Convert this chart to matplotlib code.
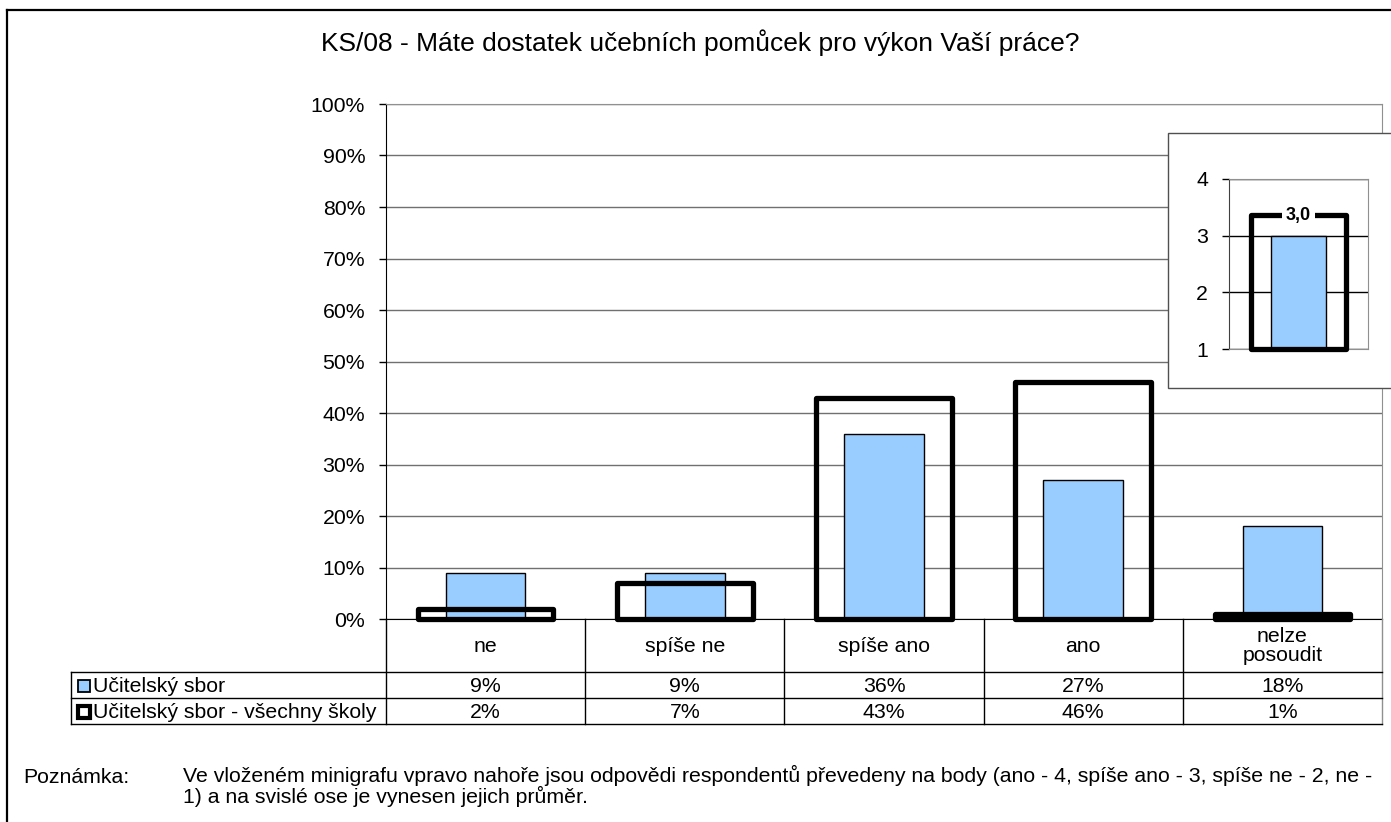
import numpy as np
import matplotlib
matplotlib.use("Agg")
import matplotlib.pyplot as plt
from matplotlib.patches import Rectangle
from matplotlib.lines import Line2D
from matplotlib.transforms import blended_transform_factory

plt.rcParams['font.family'] = ['Liberation Sans', 'DejaVu Sans']

# data
categories = ["ne", "spíše ne", "spíše ano", "ano", "nelze\nposoudit"]
sbor = [9, 9, 36, 27, 18]
vsechny = [2, 7, 43, 46, 1]
series_names = ["Učitelský sbor", "Učitelský sbor - všechny školy"]
mean_sbor = 3.0
mean_vsechny = 3.36
title = "KS/08 - Máte dostatek učebních pomůcek pro výkon Vaší práce?"
note_label = "Poznámka:"
note_text = ("Ve vloženém minigrafu vpravo nahoře jsou odpovědi respondentů převedeny na body (ano - 4, spíše ano - 3, spíše ne - 2, ne -\n"
             "1) a na svislé ose je vynesen jejich průměr.")

W, H = 1391, 822
blue = '#99CCFF'
grid_col = '#707070'
fs = 15.3

def fx(px):
    return px / W

def fy(py):
    return 1 - py / H

fig = plt.figure(figsize=(W / 100, H / 100), dpi=100)

# outer frame
fig.add_artist(Line2D([fx(7), fx(7)], [fy(10), fy(822)], color='black', lw=1.6))
fig.add_artist(Line2D([fx(7), fx(1391)], [fy(10), fy(10)], color='black', lw=1.6))

fig.text(fx(700), fy(43), title, ha='center', va='center', fontsize=19)

# main chart
L, R, T, B = 386, 1382, 104, 619
ax = fig.add_axes([fx(L), fy(B), fx(R) - fx(L), fy(T) - fy(B)])
x = np.arange(len(categories))
ax.bar(x, sbor, width=0.40, color=blue, edgecolor='black', lw=1, zorder=3)
ax.bar(x, vsechny, width=0.68, fill=False, edgecolor='black', lw=3.8,
       joinstyle='round', zorder=4, clip_on=False)
ax.set_xlim(-0.5, len(categories) - 0.5)
ax.set_ylim(0, 100)
ax.set_yticks(np.arange(0, 101, 10))
ax.set_yticklabels([f"{v}%" for v in range(0, 101, 10)], fontsize=fs)
ax.set_xticks([])
ax.yaxis.grid(True, color=grid_col, lw=1, zorder=0)
ax.set_axisbelow(True)
ax.tick_params(axis='y', length=5, width=1, pad=10)
for s in ['top', 'right']:
    ax.spines[s].set_color('#909090')
ax.spines['left'].set_color('black')
ax.spines['bottom'].set_color('black')

# data table below the chart
tr = blended_transform_factory(ax.transData, fig.transFigure)
rows_y = [619, 672, 698, 724]
for b in np.arange(-0.5, len(categories), 1.0):
    col = '#909090' if b == len(categories) - 0.5 else 'black'
    fig.add_artist(Line2D([b, b], [fy(619), fy(724)], color=col, lw=1, transform=tr))
fig.add_artist(Line2D([fx(71), fx(71)], [fy(672), fy(724)], color='black', lw=1))
for yy in rows_y[1:]:
    fig.add_artist(Line2D([fx(71), fx(R)], [fy(yy), fy(yy)], color='black', lw=1))
for i, c in enumerate(categories):
    fig.text(i, fy(646), c, transform=tr, ha='center', va='center', fontsize=fs,
             linespacing=1.0)
    fig.text(i, fy(686), f"{sbor[i]}%", transform=tr, ha='center', va='center', fontsize=fs)
    fig.text(i, fy(712), f"{vsechny[i]}%", transform=tr, ha='center', va='center', fontsize=fs)

# legend keys in table
fig.add_artist(Rectangle((fx(78), fy(692)), fx(12), fy(0) - fy(12), facecolor=blue,
                         edgecolor='black', lw=1.3))
fig.add_artist(Rectangle((fx(78), fy(718)), fx(12), fy(0) - fy(12), facecolor='white',
                         edgecolor='black', lw=3))
fig.text(fx(93), fy(686), series_names[0], ha='left', va='center', fontsize=fs)
fig.text(fx(93), fy(712), series_names[1], ha='left', va='center', fontsize=fs)

# note
fig.text(fx(23), fy(777), note_label, ha='left', va='center', fontsize=fs)
fig.text(fx(183), fy(786), note_text, ha='left', va='center', fontsize=fs, linespacing=1.0)

# inset box
fig.add_artist(Rectangle((fx(1168), fy(388)), fx(300), fy(133) - fy(388), facecolor='white',
                         edgecolor='#505050', lw=1, zorder=5))
iax = fig.add_axes([fx(1229), fy(349), fx(1368) - fx(1229), fy(179) - fy(349)], zorder=6)
iax.set_facecolor('white')
iax.bar([0], [mean_sbor - 1], bottom=1, width=0.40, color=blue, edgecolor='black', lw=1, zorder=3)
iax.bar([0], [mean_vsechny - 1], bottom=1, width=0.68, fill=False, edgecolor='black', lw=3.8,
        joinstyle='round', zorder=4, clip_on=False)
iax.text(0, mean_vsechny, f"{mean_sbor:.1f}".replace('.', ','), ha='center', va='center',
         fontsize=13, fontweight='bold', zorder=5,
         bbox=dict(facecolor='white', edgecolor='none', pad=3))
iax.set_xlim(-0.5, 0.5)
iax.set_ylim(1, 4)
iax.set_yticks([1, 2, 3, 4])
iax.set_yticklabels(['1', '2', '3', '4'], fontsize=fs)
iax.set_xticks([])
iax.yaxis.grid(True, color='black', lw=1, zorder=0)
iax.set_axisbelow(True)
iax.tick_params(axis='y', length=5, width=1, pad=10)
for s in ['top', 'right', 'bottom']:
    iax.spines[s].set_color('#909090')
iax.spines['left'].set_color('#404040')

fig.savefig("out.png", dpi=100)
